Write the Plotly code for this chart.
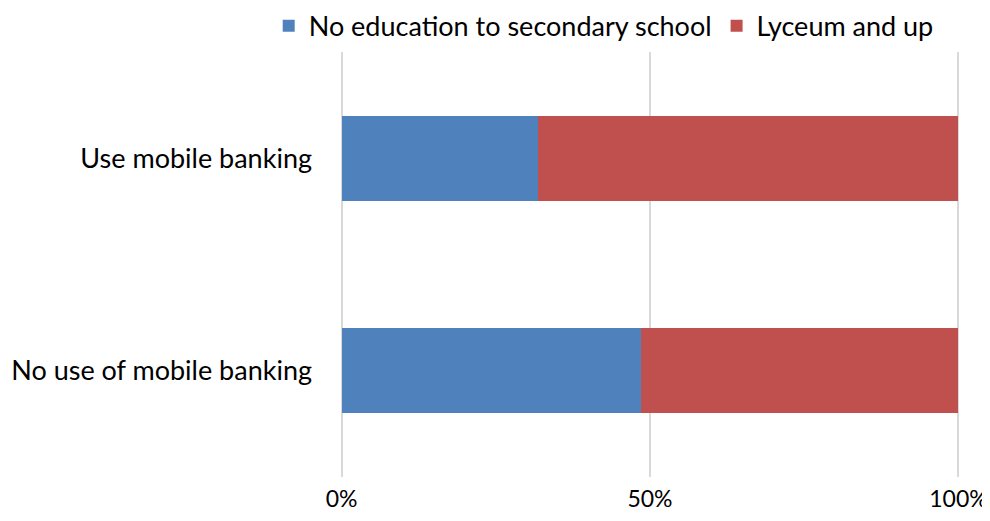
import plotly.graph_objects as go

categories = ["No use of mobile banking", "Use mobile banking"]
no_edu_secondary = [48.5, 31.9]
lyceum_up = [51.5, 68.1]
x_ticks = [0, 50, 100]
x_tick_labels = ["0%", "50%", "100%"]

FONT = "Lato"

fig = go.Figure()
fig.add_trace(go.Bar(
    y=categories, x=no_edu_secondary, orientation="h",
    name="No education to secondary school",
    marker=dict(color="#4F81BD", line=dict(width=0)),
))
fig.add_trace(go.Bar(
    y=categories, x=lyceum_up, orientation="h",
    name="Lyceum and up",
    marker=dict(color="#C0504D", line=dict(width=0)),
))

# page body has an 8px margin; figure is sized to fit the window
W, H = 982, 513
pad = 0.25
px_per_unit = 6.16
plot_left, plot_right = 334, 950
plot_top, plot_bottom = 44, 469.5

fig.update_layout(
    width=W, height=H,
    barmode="stack", bargap=0.6,
    plot_bgcolor="white", paper_bgcolor="white",
    margin=dict(l=plot_left - pad * px_per_unit,
                r=W - plot_right - pad * px_per_unit,
                t=plot_top, b=H - plot_bottom, autoexpand=False),
    font=dict(family=FONT, size=27, color="black"),
    showlegend=True,
    legend=dict(orientation="h", x=-0.115, xanchor="left", y=1.061, yanchor="middle",
                font=dict(size=27, family=FONT), traceorder="normal",
                itemwidth=30, tracegroupgap=0, bgcolor="rgba(0,0,0,0)"),
    xaxis=dict(range=[-pad, 100 + pad], tickvals=x_ticks, ticktext=x_tick_labels,
               showgrid=True, gridcolor="#D9D9D9", gridwidth=1.5,
               zeroline=False, showline=False, ticks="", ticklabelstandoff=6,
               ticklabeloverflow="allow",
               tickfont=dict(size=23, family=FONT), automargin=False),
    yaxis=dict(showgrid=False, showline=False, zeroline=False, ticks="",
               ticklabelstandoff=27, tickfont=dict(size=27, family=FONT),
               automargin=False),
)

fig.write_html("out.html")
